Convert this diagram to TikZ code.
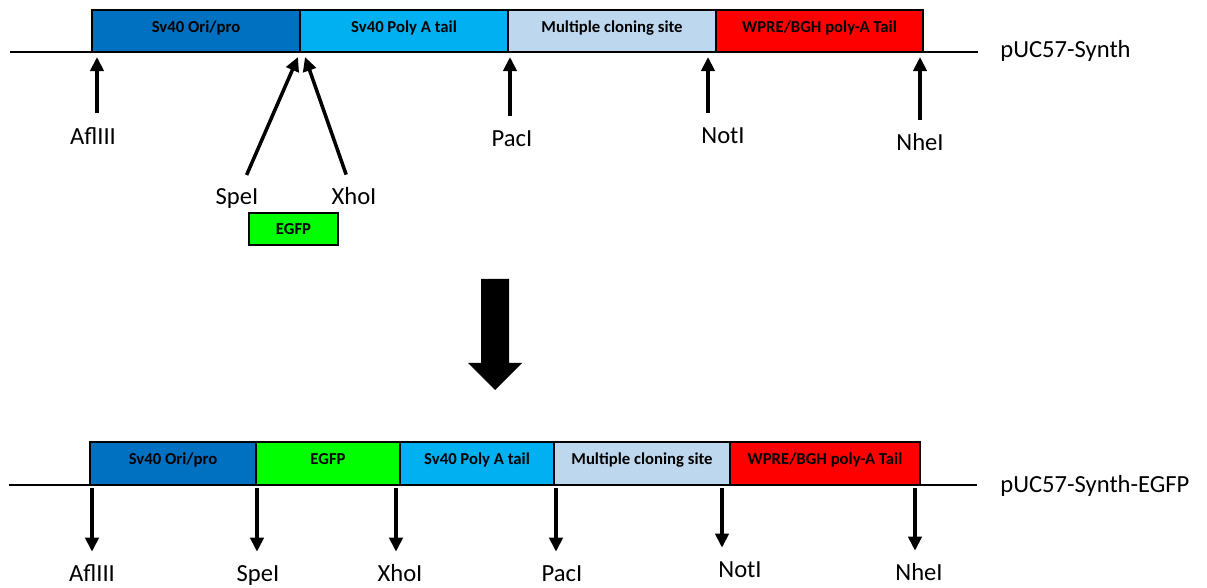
\documentclass[tikz,border=0pt]{standalone}
\usepackage{fontspec}
\setmainfont{Carlito}
\usepackage{tikz}
\usetikzlibrary{arrows.meta,positioning}
\usepackage{xcolor}
\definecolor{oriblue}{HTML}{0070C0}
\definecolor{polyblue}{HTML}{00B0F0}
\definecolor{mcsblue}{HTML}{BDD7EE}
\definecolor{wprered}{HTML}{FF0000}
\definecolor{egfpgreen}{HTML}{00FF00}

\begin{document}
\begin{tikzpicture}[node distance=0pt,
  seg/.style={draw, rectangle, line width=1.4pt, inner sep=0pt, outer sep=0pt,
    font=\fontsize{9.5}{11}\selectfont\bfseries, text height=6.5pt, text depth=5.3pt},
  enz/.style={font=\fontsize{14}{16}\selectfont, inner sep=0pt, text height=9pt, text depth=0pt},
  cutup/.style={line width=2pt, -{Triangle[width=7.5pt,length=8pt]}, shorten <=0.3cm},
  cutdown/.style={line width=2pt, -{Triangle[width=7.5pt,length=8pt]}, shorten >=0.28cm}]
\useasboundingbox (0,0) rectangle (24.14,-11.76);

% pUC57-Synth
\draw[line width=1.2pt] (0.2,-1.04) -- (19.56,-1.04);
\node[seg, fill=oriblue, minimum width=4.16cm, minimum height=0.84cm, anchor=south west] (T1) at (1.84,-1.04) {Sv40 Ori/pro};
\node[seg, fill=polyblue, minimum width=4.16cm, minimum height=0.84cm, right=of T1] (T2) {Sv40 Poly A tail};
\node[seg, fill=mcsblue, minimum width=4.16cm, minimum height=0.84cm, right=of T2] (T3) {Multiple cloning site};
\node[seg, fill=wprered, minimum width=4.14cm, minimum height=0.84cm, right=of T3] (T4) {WPRE/BGH poly-A Tail};
\node[enz, anchor=base west] (puc1) at (20.0,-1.16) {pUC57-Synth};

\coordinate (aflS1) at (1.94,-1.14);
\coordinate (speS1) at (5.96,-1.14);
\coordinate (xhoS1) at (6.10,-1.14);
\coordinate (pacS1) at (10.2,-1.14);
\coordinate (notS1) at (14.16,-1.14);
\coordinate (nheS1) at (18.4,-1.14);

\node[enz] (afl1) at (1.86,-2.73) {AflIII};
\node[enz] (spe1) at (4.74,-3.94) {SpeI};
\node[enz] (xho1) at (7.08,-3.94) {XhoI};
\node[enz] (pac1) at (10.24,-2.78) {PacI};
\node[enz] (not1) at (14.46,-2.72) {NotI};
\node[enz] (nhe1) at (18.4,-2.86) {NheI};

\draw[cutup] (afl1.north -| aflS1) -- (aflS1);
\draw[cutup] (spe1) -- (speS1);
\draw[cutup] (xho1) -- (xhoS1);
\draw[cutup] (pac1.north -| pacS1) -- (pacS1);
\draw[cutup] (not1.north -| notS1) -- (notS1);
\draw[cutup] (nhe1.north -| nheS1) -- (nheS1);

% insert
\node[seg, fill=egfpgreen, minimum width=1.78cm, minimum height=0.64cm, text depth=0.3pt] (ins) at (5.87,-4.58) {EGFP};

% ligation
\fill (9.62,-5.58) -- (10.18,-5.58) -- (10.18,-7.26) -- (10.44,-7.26) -- (9.9,-7.8)
  -- (9.36,-7.26) -- (9.62,-7.26) -- cycle;

% pUC57-Synth-EGFP
\draw[line width=1.2pt] (0.18,-9.7) -- (19.54,-9.7);
\node[seg, fill=oriblue, minimum width=3.32cm, minimum height=0.86cm, anchor=south west] (B1) at (1.80,-9.7) {Sv40 Ori/pro};
\node[seg, fill=egfpgreen, minimum width=2.88cm, minimum height=0.86cm, right=of B1] (B2) {EGFP};
\node[seg, fill=polyblue, minimum width=3.08cm, minimum height=0.86cm, right=of B2] (B3) {Sv40 Poly A tail};
\node[seg, fill=mcsblue, minimum width=3.52cm, minimum height=0.86cm, right=of B3] (B4) {Multiple cloning site};
\node[seg, fill=wprered, minimum width=3.80cm, minimum height=0.86cm, right=of B4] (B5) {WPRE/BGH poly-A Tail};
\node[enz, anchor=base west] (puc2) at (20.0,-9.84) {pUC57-Synth-EGFP};

\coordinate (aflS2) at (1.84,-9.76);
\coordinate (speS2) at (5.14,-9.76);
\coordinate (xhoS2) at (7.92,-9.76);
\coordinate (pacS2) at (11.12,-9.76);
\coordinate (notS2) at (14.44,-9.76);
\coordinate (nheS2) at (18.30,-9.76);

\node[enz] (afl2) at (1.84,-11.48) {AflIII};
\node[enz] (spe2) at (5.16,-11.48) {SpeI};
\node[enz] (xho2) at (8.0,-11.48) {XhoI};
\node[enz] (pac2) at (11.24,-11.48) {PacI};
\node[enz] (not2) at (14.8,-11.4) {NotI};
\node[enz] (nhe2) at (18.38,-11.46) {NheI};

\draw[cutdown] (aflS2) -- (afl2.north -| aflS2);
\draw[cutdown] (speS2) -- (spe2.north -| speS2);
\draw[cutdown] (xhoS2) -- (xho2.north -| xhoS2);
\draw[cutdown] (pacS2) -- (pac2.north -| pacS2);
\draw[cutdown] (notS2) -- (not2.north -| notS2);
\draw[cutdown] (nheS2) -- (nhe2.north -| nheS2);
\end{tikzpicture}
\end{document}
